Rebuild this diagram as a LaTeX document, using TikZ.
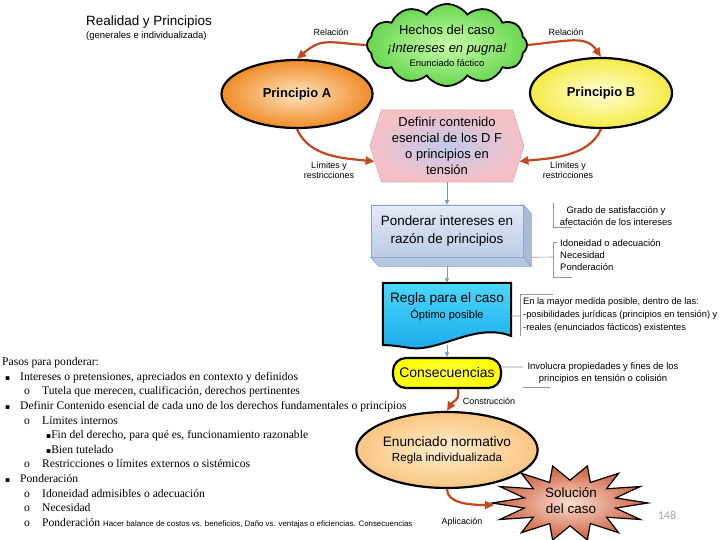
\documentclass[tikz,border=0pt]{standalone}
\usepackage{fontspec}
\setmainfont{Liberation Sans}
\newfontfamily\listfont{Liberation Serif}
\newfontfamily\symfont{DejaVu Sans}
\newfontfamily\numfont{Carlito}
\usepackage{xcolor}
\usepackage{tikz}
\usetikzlibrary{arrows.meta, positioning, shapes.geometric, shapes.symbols}

\definecolor{flecha}{RGB}{196,72,30}
\definecolor{hilo}{RGB}{120,150,190}
\definecolor{gris}{RGB}{150,150,150}
\definecolor{naranjaIn}{RGB}{255,228,190}
\definecolor{naranjaOut}{RGB}{240,140,40}
\definecolor{amarilloIn}{RGB}{255,255,215}
\definecolor{amarilloOut}{RGB}{245,235,70}
\definecolor{verdeIn}{RGB}{200,252,170}
\definecolor{verdeOut}{RGB}{105,215,80}
\definecolor{rosa}{RGB}{245,192,198}
\definecolor{lila}{RGB}{192,202,236}
\definecolor{rosaBorde}{RGB}{225,170,175}
\definecolor{cajaTop}{RGB}{228,235,247}
\definecolor{cajaBot}{RGB}{188,203,230}
\definecolor{cajaLado}{RGB}{168,188,218}
\definecolor{cajaBorde}{RGB}{140,162,198}
\definecolor{cianTop}{RGB}{75,215,250}
\definecolor{cianBot}{RGB}{25,170,235}
\definecolor{melocIn}{RGB}{255,238,205}
\definecolor{melocOut}{RGB}{250,198,130}
\definecolor{estrellaIn}{RGB}{250,222,208}
\definecolor{estrellaOut}{RGB}{205,95,60}

\newcommand{\cuad}{{\symfont\fontsize{7.5}{8}\selectfont ▪}}

\begin{document}
\begin{tikzpicture}[x=1bp, y=-1bp,
        oval/.style={ellipse, draw, line width=2.2bp, inner sep=0pt, align=center},
        rel/.style={-{Triangle[length=9bp, width=8bp]}, line width=2.2bp, draw=flecha},
        flow/.style={-{Triangle[length=4.5bp, width=4bp]}, line width=0.8bp, draw=hilo},
        lbl/.style={font=\fontsize{9}{10.5}\selectfont, align=center, inner sep=0pt},
        nota/.style={font=\fontsize{9.5}{12}\selectfont, inner sep=0pt},
        brk/.style={draw=gris, line width=0.6bp},
        paso/.style={font=\listfont\fontsize{11.65}{14}\selectfont, anchor=west, inner sep=0pt,
            text height=8bp, text depth=2.5bp}
    ]
    \fill[white] (0,0) rectangle (720,540);
    \useasboundingbox (0,0) rectangle (720,540);

    % title
    \node[anchor=west, inner sep=0pt, font=\fontsize{13.5}{16}\selectfont] (titulo) at (86,22) {Realidad y Principios};
    \node[below=3bp of titulo.south west, anchor=north west, inner sep=0pt, font=\fontsize{9.5}{11}\selectfont] (subtitulo) {(generales e individualizada)};

    % hechos
    \node[cloud, cloud puffs=12, cloud puff arc=110, cloud ignores aspect, draw, line width=1.8bp,
        inner color=verdeIn, outer color=verdeOut, minimum width=160bp, minimum height=82bp, inner sep=0pt] (hechos) at (447,45) {};
    \node[align=center, inner sep=0pt, font=\fontsize{13}{18}\selectfont] (hechostxt) at (447,46)
        {Hechos del caso\\\textit{¡Intereses en pugna!}\\[-4bp]{\fontsize{9.5}{11}\selectfont Enunciado fáctico}};

    % principios
    \node[oval, minimum width=151bp, minimum height=68bp, inner color=naranjaIn, outer color=naranjaOut,
        font=\fontsize{13}{15}\selectfont\bfseries] (pa) at (297,94) {Principio A};
    \node[oval, minimum width=142bp, minimum height=70bp, inner color=amarilloIn, outer color=amarilloOut,
        font=\fontsize{13}{15}\selectfont\bfseries] (pb) at (601,93) {Principio B};

    \node[signal, signal to=east and west, signal pointer angle=145, draw=rosaBorde, line width=0.6bp,
        inner color=lila, outer color=rosa, minimum width=154bp, minimum height=72bp, inner sep=0pt,
        align=center, font=\fontsize{13}{16}\selectfont] (hex) at (447,146)
        {Definir contenido\\esencial de los D F\\o principios en\\tensión};

    % ponderar
    \node[draw=cajaBorde, line width=0.6bp, top color=cajaTop, bottom color=cajaBot, minimum width=152bp,
        minimum height=52bp, inner sep=0pt, align=center, font=\fontsize{13.5}{18}\selectfont] (pond) at (447,231)
        {Ponderar intereses en\\razón de principios};
    \filldraw[draw=cajaBorde, line width=0.6bp, fill=cajaLado] (pond.north east) -- ++(8,9)
        -- ([shift={(8,9)}]pond.south east) -- (pond.south east) -- cycle;
    \filldraw[draw=cajaBorde, line width=0.6bp, fill=cajaLado!85!white] (pond.south west) -- (pond.south east)
        -- ++(8,9) -- ([shift={(8,9)}]pond.south west) -- cycle;

    % regla
    \node[minimum width=128bp, minimum height=62bp, inner sep=0pt] (regla) at (447,314) {};
    \shadedraw[line width=2bp, top color=cianTop, bottom color=cianBot] (regla.north west) -- (regla.north east)
        -- (511,336) .. controls (476,322) and (440,352) .. (410,348) .. controls (398,346) and (390,345) .. (regla.south west) -- cycle;
    \node[align=center, inner sep=0pt, font=\fontsize{13.7}{16}\selectfont] (reglatxt) at (447,307)
        {Regla para el caso\\{\fontsize{11}{13}\selectfont Óptimo posible}};

    \node[draw, line width=2.2bp, rounded corners=13bp, minimum width=108bp, minimum height=30bp, inner sep=0pt,
        inner color=yellow!70!white, outer color=yellow, font=\fontsize{14}{16}\selectfont] (conse) at (447,373) {Consecuencias};

    \node[oval, minimum width=139bp, minimum height=76bp, inner color=melocIn, outer color=melocOut,
        font=\fontsize{13.7}{15}\selectfont] (enun) at (447,450)
        {Enunciado normativo\\{\fontsize{11.7}{13}\selectfont Regla individualizada}};

    % solucion
    \shadedraw[line width=1.2bp, inner color=estrellaIn, outer color=estrellaOut] (648,503)
        \foreach \i [evaluate=\i as \r using {ifthenelse(mod(\i,2)==0,1,0.6)}] in {1,...,27}
        { -- ({570+78*\r*cos(\i*360/28)},{503+38*\r*sin(\i*360/28)}) } -- cycle;
    \node[align=center, inner sep=0pt, font=\fontsize{13.5}{16}\selectfont] (sol) at (571,501) {Solución\\del caso};
    \coordinate (solw) at (494,505);

    % connectors
    \draw[flow] (hex.south) -- (pond.north);
    \draw[flow] ([yshift=-9bp]pond.south) -- (regla.north);
    \draw[flow] (regla.south) -- (conse.north);

    \draw[rel] (hechos.west) .. controls +(-35,-2) and +(25,-22) .. (pa.north);
    \draw[rel] (hechos.east) .. controls +(40,-4) and +(-15,-22) .. (pb.north);
    \draw[rel] (pa.south) .. controls +(12,28) and +(-30,-3) .. (hex.192);
    \draw[rel] (pb.south) .. controls +(-12,28) and +(30,-3) .. (hex.-12);
    \draw[rel] ([xshift=11bp]conse.south) .. controls +(2,12) and +(6,-10) .. (enun.north);
    \draw[rel] (enun.south) .. controls +(0,14) and +(-25,0) .. (solw);

    \node[lbl] (relA) at (331,32) {Relación};
    \node[lbl] (relB) at (566,32) {Relación};
    \node[lbl] (limA) at (329,170) {Límites y\\restricciones};
    \node[lbl] (limB) at (568,170) {Límites y\\restricciones};
    \node[lbl] (constr) at (489,401) {Construcción};
    \node[lbl] (aplic) at (462,522) {Aplicación};

    % notes
    \node[nota, align=center] (grado) at (616,216) {Grado de satisfacción y\\afectación de los intereses};
    \draw[brk] (553,203) -- (553,227) -- (572,227);

    \node[nota, anchor=north west, align=left] (idon) at (560,239) {Idoneidad o adecuación\\Necesidad\\Ponderación};
    \draw[brk] (557,242) -- (553,242) -- (553,277) -- (572,277);
    \coordinate (brkpond) at (553,257);
    \draw[brk] ([xshift=8bp]pond.south east) -- (brkpond);

    \node[nota, anchor=north west, align=left, font=\fontsize{9.3}{13}\selectfont] (optimo) at (523,298)
        {En la mayor medida posible, dentro de las:\\-posibilidades jurídicas (principios en tensión) y\\-reales (enunciados fácticos) existentes};
    \draw[brk] (553,294) -- (520,294) -- (520,336);
    \coordinate (brkregla) at (520,316);
    \draw[brk] ([yshift=-2bp]regla.east) -- (brkregla);

    \node[nota, align=center] (involucra) at (603,373) {Involucra propiedades y fines de los\\principios en tensión o colisión};
    \coordinate (brkconse) at (523,367);
    \draw[brk] ([yshift=6bp]conse.east) -- (brkconse);
    \draw[brk] (523,387) -- (550,387);

    % pasos
    \node[paso] (p0) at (2,363) {Pasos para ponderar:};
    \node[paso] (p1) at (5,377.6) {\makebox[15bp][l]{\cuad}Intereses o pretensiones, apreciados en contexto y definidos};
    \node[paso] (p2) at (24,392.2) {\makebox[18bp][l]{o}Tutela que merecen, cualificación, derechos pertinentes};
    \node[paso] (p3) at (5,406.8) {\makebox[15bp][l]{\cuad}Definir Contenido esencial de cada uno de los derechos fundamentales o principios};
    \node[paso] (p4) at (24,421.4) {\makebox[18bp][l]{o}Límites internos};
    \node[paso] (p5) at (46,436) {\cuad Fin del derecho, para qué es, funcionamiento razonable};
    \node[paso] (p6) at (46,450.6) {\cuad Bien tutelado};
    \node[paso] (p7) at (24,465.2) {\makebox[18bp][l]{o}Restricciones o límites externos o sistémicos};
    \node[paso] (p8) at (5,479.8) {\makebox[15bp][l]{\cuad}Ponderación};
    \node[paso] (p9) at (24,494.4) {\makebox[18bp][l]{o}Idoneidad admisibles o adecuación};
    \node[paso] (p10) at (24,509) {\makebox[18bp][l]{o}Necesidad};
    \node[paso] (p11) at (24,523.6) {\makebox[18bp][l]{o}Ponderación
        {\rmfamily\fontsize{7.9}{9}\selectfont Hacer balance de costos vs. beneficios, Daño vs. ventajas o eficiencias. Consecuencias}};

    \node[font=\numfont\fontsize{12}{14}\selectfont, text=gray!70, inner sep=0pt] (pagina) at (667,515) {148};
\end{tikzpicture}
\end{document}
